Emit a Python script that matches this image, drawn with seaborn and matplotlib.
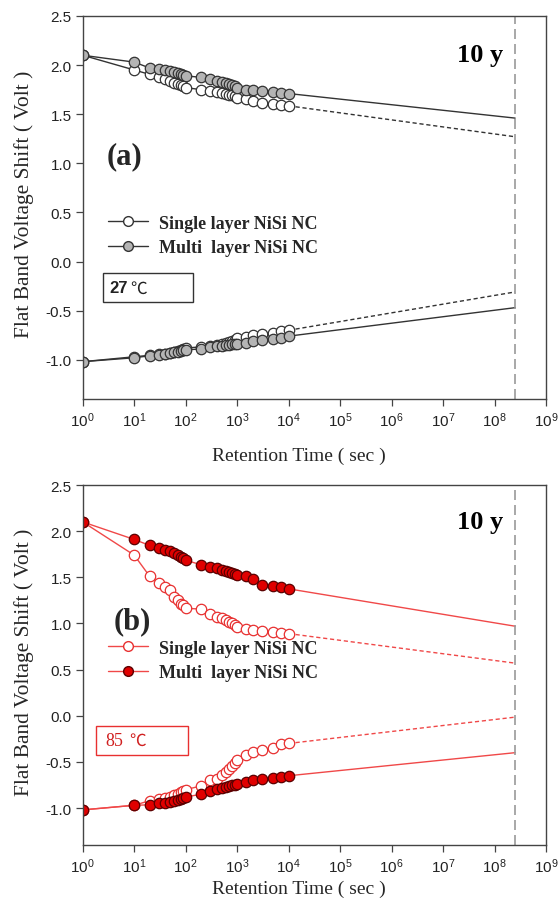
import numpy as np
import pandas as pd
import matplotlib
matplotlib.use('Agg')
import matplotlib.pyplot as plt
from matplotlib.lines import Line2D
from matplotlib.patches import Rectangle
import seaborn as sns

# retention times (sec)
t = [1, 10, 20, 30, 40, 50, 60, 70, 80, 90, 100, 200, 300, 400, 500, 600, 700, 800, 900,
     1000, 1500, 2000, 3000, 5000, 7000, 10000]
t_10y = 2.5e8
xtick_vals = [1e0, 1e1, 1e2, 1e3, 1e4, 1e5, 1e6, 1e7, 1e8, 1e9]
xtick_labels = ['$10^{%d}$' % i for i in range(10)]
ytick_vals = [-1.0, -0.5, 0.0, 0.5, 1.0, 1.5, 2.0, 2.5]

# (a) 27 C
a_single_up = [2.10, 1.95, 1.905, 1.88, 1.86, 1.84, 1.82, 1.81, 1.80, 1.79, 1.77, 1.75, 1.74, 1.73,
               1.72, 1.71, 1.70, 1.695, 1.69, 1.665, 1.65, 1.635, 1.61, 1.60, 1.59, 1.585]
a_multi_up = [2.10, 2.03, 1.97, 1.96, 1.95, 1.94, 1.93, 1.92, 1.91, 1.90, 1.89, 1.875, 1.855, 1.84,
              1.83, 1.82, 1.81, 1.80, 1.79, 1.77, 1.75, 1.75, 1.74, 1.73, 1.72, 1.71]
a_single_lo = [-1.02, -0.97, -0.955, -0.945, -0.94, -0.93, -0.92, -0.91, -0.90, -0.89, -0.88, -0.87,
               -0.86, -0.85, -0.84, -0.83, -0.82, -0.81, -0.80, -0.78, -0.77, -0.75, -0.735, -0.725,
               -0.71, -0.70]
a_multi_lo = [-1.02, -0.98, -0.96, -0.95, -0.94, -0.93, -0.925, -0.92, -0.91, -0.905, -0.90, -0.89,
              -0.87, -0.865, -0.86, -0.855, -0.85, -0.845, -0.845, -0.84, -0.83, -0.81, -0.80,
              -0.79, -0.775, -0.76]
a_end = {'single_up': 1.27, 'multi_up': 1.46, 'single_lo': -0.31, 'multi_lo': -0.47}

# (b) 85 C
b_single_up = [2.10, 1.74, 1.51, 1.44, 1.40, 1.36, 1.29, 1.25, 1.21, 1.20, 1.165, 1.155, 1.10,
               1.07, 1.055, 1.035, 1.02, 1.00, 0.985, 0.96, 0.94, 0.93, 0.92, 0.91, 0.90, 0.89]
b_multi_up = [2.10, 1.91, 1.845, 1.82, 1.80, 1.78, 1.76, 1.74, 1.72, 1.71, 1.685, 1.635, 1.61,
              1.60, 1.58, 1.57, 1.56, 1.55, 1.54, 1.53, 1.51, 1.485, 1.42, 1.41, 1.40, 1.375]
b_single_lo = [-1.02, -0.97, -0.92, -0.905, -0.89, -0.875, -0.86, -0.845, -0.83, -0.815, -0.80,
               -0.76, -0.70, -0.68, -0.64, -0.61, -0.575, -0.54, -0.51, -0.48, -0.43, -0.39,
               -0.375, -0.35, -0.31, -0.30]
b_multi_lo = [-1.02, -0.97, -0.965, -0.95, -0.94, -0.93, -0.92, -0.91, -0.90, -0.89, -0.88, -0.85,
              -0.82, -0.79, -0.78, -0.77, -0.76, -0.75, -0.745, -0.74, -0.72, -0.70, -0.685,
              -0.675, -0.66, -0.65]
b_end = {'single_up': 0.57, 'multi_up': 0.97, 'single_lo': -0.015, 'multi_lo': -0.40}

sns.set_style('ticks')
plt.rcParams['font.family'] = ['Liberation Serif', 'Noto Sans CJK SC']
plt.rcParams['mathtext.default'] = 'regular'
plt.rcParams['axes.unicode_minus'] = False

fig = plt.figure(figsize=(5.59, 9.12), dpi=100)
ax_a = fig.add_axes([0.148, 0.5614, 0.829, 0.42])
ax_b = fig.add_axes([0.148, 0.0724, 0.829, 0.3947])


def panel(ax, s_up, m_up, s_lo, m_lo, ends, line_c, s_face, s_edge, m_face, m_edge):
    ax.set_xscale('log')
    for vals, key, face, edge, ls in [(s_up, 'single_up', s_face, s_edge, (0, (3, 2))),
                                      (m_up, 'multi_up', m_face, m_edge, '-'),
                                      (s_lo, 'single_lo', s_face, s_edge, (0, (3, 2))),
                                      (m_lo, 'multi_lo', m_face, m_edge, '-')]:
        ext = pd.DataFrame({'t': [t[-1], t_10y], 'v': [vals[-1], ends[key]]})
        sns.lineplot(data=ext, x='t', y='v', ax=ax, color=line_c, linewidth=1.0,
                     linestyle=ls, errorbar=None)
        df = pd.DataFrame({'t': t, 'v': vals})
        sns.lineplot(data=df, x='t', y='v', ax=ax, color=line_c, linewidth=1.0,
                     marker='o', markersize=7.5, markerfacecolor=face,
                     markeredgecolor=edge, markeredgewidth=0.9, errorbar=None)
    ax.axvline(t_10y, color='#9a9a9a', linewidth=1.2, linestyle=(0, (6, 3)))
    ax.set_xlim(1, 1e9)
    ax.set_ylim(-1.4, 2.5)
    ax.set_xticks(xtick_vals)
    ax.set_xticklabels(xtick_labels)
    ax.minorticks_off()
    ax.set_yticks(ytick_vals)
    ax.set_yticklabels(['%.1f' % v for v in ytick_vals])
    for lab in ax.get_xticklabels() + ax.get_yticklabels():
        lab.set_fontfamily('Liberation Sans')
        lab.set_fontsize(11)
        lab.set_color('#222222')
    ax.tick_params(direction='out', length=5, width=0.9, color='#444444', pad=3)
    for sp in ax.spines.values():
        sp.set_color('#444444')
        sp.set_linewidth(1.0)
    ax.set_xlabel('Retention Time ( sec )', fontsize=14)
    ax.set_ylabel('Flat Band Voltage Shift ( Volt )', fontsize=15.5)
    ax.yaxis.set_label_coords(-0.105, 0.51)
    ax.text(0.857, 0.9, '10 y', transform=ax.transAxes, ha='center', va='center',
            fontsize=19, fontweight='bold', color='black')
    handles = [Line2D([], [], color=line_c, linewidth=1.0, marker='o', markersize=7,
                      markerfacecolor=s_face, markeredgecolor=s_edge),
               Line2D([], [], color=line_c, linewidth=1.0, marker='o', markersize=7,
                      markerfacecolor=m_face, markeredgecolor=m_edge)]
    return handles


h_a = panel(ax_a, a_single_up, a_multi_up, a_single_lo, a_multi_lo, a_end,
            '#333333', 'white', '#333333', '#b4b4b4', '#333333')
h_b = panel(ax_b, b_single_up, b_multi_up, b_single_lo, b_multi_lo, b_end,
            '#f04848', 'white', '#e83030', '#e00000', '#5a0000')

ax_a.xaxis.set_label_coords(0.467, -0.125)
ax_b.xaxis.set_label_coords(0.467, -0.097)

labels = ['Single layer NiSi NC', 'Multi  layer NiSi NC']
for ax, h, y0 in [(ax_a, h_a, 0.505), (ax_b, h_b, 0.595)]:
    ax.legend(h, labels, loc='upper left', bbox_to_anchor=(0.035, y0), frameon=False,
              borderpad=0, handlelength=2.2, handletextpad=0.65, labelspacing=0.42,
              prop={'family': 'Liberation Serif', 'weight': 'bold', 'size': 13})

ax_a.text(0.091, 0.634, '(a)', transform=ax_a.transAxes, ha='center', va='center',
          fontsize=22, fontweight='bold')
ax_b.text(0.108, 0.622, '(b)', transform=ax_b.transAxes, ha='center', va='center',
          fontsize=22, fontweight='bold')

ax_a.add_patch(Rectangle((0.043, 0.253), 0.194, 0.0757, transform=ax_a.transAxes,
                         fill=False, edgecolor='#333333', linewidth=1.0))
ax_a.text(0.058, 0.29, '27', transform=ax_a.transAxes, ha='left', va='center',
          fontsize=12, fontweight='bold', color='#222222', family='Liberation Sans')
ax_a.text(0.102, 0.29, '℃', transform=ax_a.transAxes, ha='left', va='center',
          fontsize=12, color='#222222', family=['Noto Sans CJK SC', 'DejaVu Sans'])
ax_b.add_patch(Rectangle((0.028, 0.25), 0.2, 0.0806, transform=ax_b.transAxes,
                         fill=False, edgecolor='#e83030', linewidth=1.0))
ax_b.text(0.048, 0.29, '85', transform=ax_b.transAxes, ha='left', va='center',
          fontsize=13, color='#d02020', family='Liberation Serif')
ax_b.text(0.1, 0.29, '℃', transform=ax_b.transAxes, ha='left', va='center',
          fontsize=12, color='#d02020', family=['Noto Sans CJK SC', 'DejaVu Sans'])

fig.savefig('out.png', dpi=100)
